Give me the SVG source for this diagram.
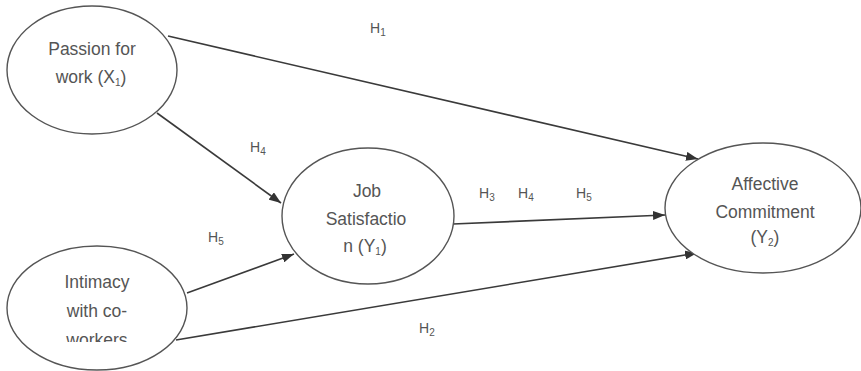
<svg xmlns="http://www.w3.org/2000/svg" width="861" height="371" viewBox="0 0 861 371">
<style>
.node ellipse{fill:#fff;stroke:#555;stroke-width:1.4}
.t{font-family:"Liberation Sans",Arial,sans-serif;font-size:17.5px;fill:#555;text-anchor:middle}
.h{font-family:"Liberation Sans",Arial,sans-serif;font-size:14px;fill:#555}
.sub{font-size:10px}
.conn line{stroke:#3a3a3a;stroke-width:1.6;marker-end:url(#ah)}
</style>
<defs>
<marker id="ah" markerUnits="userSpaceOnUse" markerWidth="12" markerHeight="9" refX="12" refY="4.5" orient="auto">
<path d="M0,0 L12,4.5 L0,9 z" fill="#333"/>
</marker>
<clipPath id="cw"><rect x="0" y="240" width="200" height="102"/></clipPath>
</defs>
<rect width="861" height="371" fill="#fff"/>
<g id="connectors" class="conn">
<line x1="168" y1="36" x2="698" y2="159"/>
<line x1="157" y1="113" x2="281" y2="203"/>
<line x1="187" y1="293" x2="294" y2="254"/>
<line x1="176" y1="340" x2="697" y2="253"/>
<line x1="453" y1="224" x2="665" y2="215"/>
</g>
<g id="passion" class="node">
<ellipse cx="92" cy="70" rx="85" ry="64"/>
<text class="t" x="92" y="55">Passion for</text>
<text class="t" x="91" y="83">work (X<tspan class="sub" dy="3">1</tspan><tspan dy="-3">)</tspan></text>
</g>
<g id="intimacy" class="node">
<ellipse cx="97" cy="308" rx="90" ry="62"/>
<text class="t" x="97" y="288">Intimacy</text>
<text class="t" x="97" y="317">with co-</text>
<text class="t" x="97" y="346" clip-path="url(#cw)">workers</text>
</g>
<g id="job" class="node">
<ellipse cx="368" cy="216" rx="86" ry="68"/>
<text class="t" x="367" y="197">Job</text>
<text class="t" x="366" y="225">Satisfactio</text>
<text class="t" x="365" y="252">n (Y<tspan class="sub" dy="3">1</tspan><tspan dy="-3">)</tspan></text>
</g>
<g id="affective" class="node">
<ellipse cx="763" cy="208" rx="98" ry="65"/>
<text class="t" x="765" y="190">Affective</text>
<text class="t" x="765" y="218">Commitment</text>
<text class="t" x="765" y="243">(Y<tspan class="sub" dy="3">2</tspan><tspan dy="-3">)</tspan></text>
</g>
<g id="labels">
<text class="h" x="370" y="33">H<tspan class="sub" dy="3">1</tspan></text>
<text class="h" x="250" y="152">H<tspan class="sub" dy="3">4</tspan></text>
<text class="h" x="208" y="242">H<tspan class="sub" dy="3">5</tspan></text>
<text class="h" x="479" y="198">H<tspan class="sub" dy="3">3</tspan></text>
<text class="h" x="518" y="198">H<tspan class="sub" dy="3">4</tspan></text>
<text class="h" x="576" y="198">H<tspan class="sub" dy="3">5</tspan></text>
<text class="h" x="419" y="333">H<tspan class="sub" dy="3">2</tspan></text>
</g>
</svg>
